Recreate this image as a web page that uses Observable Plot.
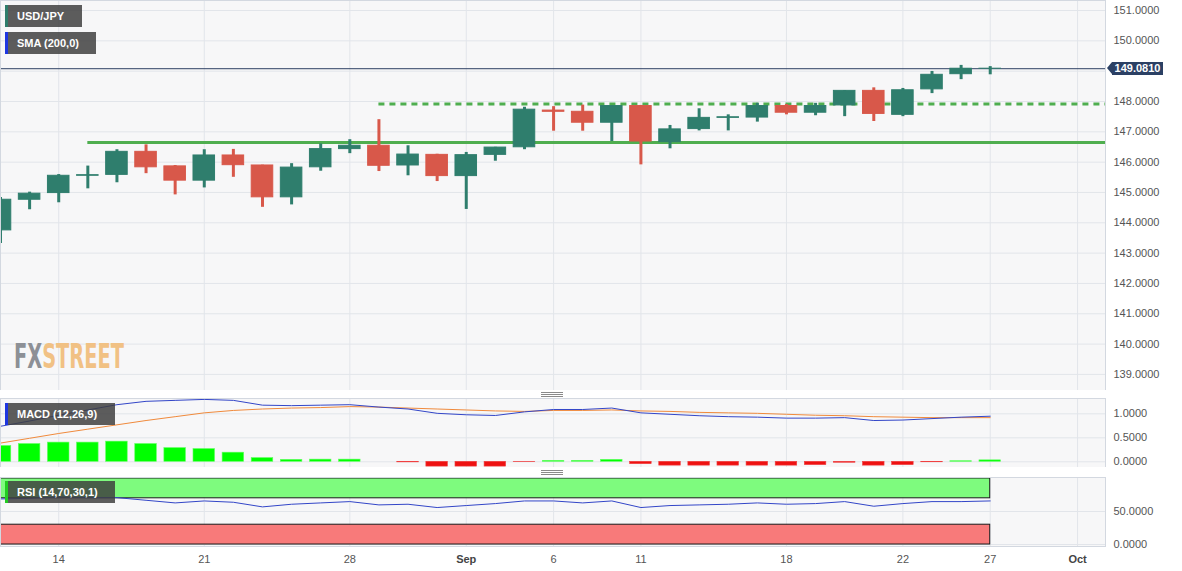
<!DOCTYPE html>
<html>
<head>
<meta charset="utf-8">
<script src="https://cdn.jsdelivr.net/npm/d3@7"></script>
<script src="https://cdn.jsdelivr.net/npm/@observablehq/plot@0.6"></script>
<style>
  html, body { margin: 0; padding: 0; background: #fff; }
  #wrap { position: relative; width: 1182px; height: 571px; overflow: hidden; background: #fff;
          font-family: "Liberation Sans", Arial, sans-serif; }
  .panel { position: absolute; left: 0; }
  .tag { position: absolute; left: 5px; height: 22px; line-height: 22px; padding-left: 12px;
         background: rgba(62,62,62,0.84); color: #fff; font-size: 11px; font-weight: bold;
         box-sizing: border-box; white-space: nowrap; }
  .tag::before { content: ""; position: absolute; left: 0; top: 0; bottom: 0; width: 3px; background: var(--stripe); }
  .handle { position: absolute; left: 541px; width: 22px; height: 5px; border-top: 1px solid #8a8a8a;
            border-bottom: 1px solid #8a8a8a; box-sizing: border-box; }
  .handle::after { content: ""; position: absolute; left: 0; right: 0; top: 1px; height: 1px; background: #8a8a8a; }
  .pricetag { position: absolute; left: 1112px; width: 51px; height: 13px; line-height: 13px;
              background: #2b4064; color: #fff; font-size: 11px; font-weight: bold; text-align: center; }
  .pricetag::before { content: ""; position: absolute; left: -5px; top: 0; border-right: 5px solid #2b4064;
                      border-top: 6.5px solid transparent; border-bottom: 6.5px solid transparent; }
</style>
</head>
<body>
<div id="wrap"></div>
<script>
// ---------------- DATA ----------------
const dates = ["2023-08-10","2023-08-11","2023-08-14","2023-08-15","2023-08-16","2023-08-17","2023-08-18",
  "2023-08-21","2023-08-22","2023-08-23","2023-08-24","2023-08-25","2023-08-28","2023-08-29","2023-08-30",
  "2023-08-31","2023-09-01","2023-09-04","2023-09-05","2023-09-06","2023-09-07","2023-09-08","2023-09-11",
  "2023-09-12","2023-09-13","2023-09-14","2023-09-15","2023-09-18","2023-09-19","2023-09-20","2023-09-21",
  "2023-09-22","2023-09-25","2023-09-26","2023-09-27"];
const opens  = [143.75,144.76,144.98,145.55,145.58,146.34,145.86,145.39,146.22,145.89,144.84,145.83,146.43,146.54,145.89,
                146.24,145.54,146.24,146.49,147.70,147.66,147.30,147.85,146.66,147.09,147.46,147.47,147.85,147.63,147.87,
                148.35,147.56,148.40,148.90,149.08];
const highs  = [144.83,145.01,145.59,145.87,146.41,146.57,145.89,146.41,146.42,145.90,145.95,146.60,146.74,147.40,146.54,
                146.26,146.32,146.49,147.81,147.83,147.88,147.86,147.87,147.21,147.76,147.56,147.94,147.90,147.94,148.36,
                148.45,148.43,148.99,149.19,149.15];
const lows   = [143.32,144.43,144.66,145.12,145.32,145.62,144.92,145.15,145.50,144.51,144.59,145.70,146.28,145.69,145.55,
                145.36,144.44,146.03,146.41,147.02,147.02,146.68,145.91,146.44,147.03,147.03,147.32,147.56,147.53,147.50,
                147.34,147.50,148.26,148.72,148.88];
const closes = [144.76,144.96,145.55,145.57,146.34,145.83,145.39,146.22,145.90,144.84,145.82,146.43,146.54,145.88,146.25,
                145.54,146.23,146.48,147.73,147.66,147.30,147.85,146.68,147.08,147.46,147.48,147.85,147.63,147.85,148.35,
                147.59,148.37,148.88,149.08,149.081];
const lastPrice = 149.081;

// horizontal support/resistance levels and the trading-day index where each starts
const levelValues = [146.65, 147.92];
const levelStart  = [3, 13];

// MACD (12,26,9)
const macdLine   = [0.74,0.85,0.97,1.08,1.19,1.26,1.28,1.30,1.28,1.18,1.17,1.18,1.19,1.14,1.10,1.01,0.98,0.965,1.04,1.09,
                    1.09,1.12,1.02,0.99,0.96,0.94,0.93,0.91,0.91,0.92,0.86,0.87,0.90,0.93,0.95];
const signalLine = [0.39,0.49,0.59,0.68,0.77,0.86,0.94,1.02,1.07,1.10,1.12,1.13,1.15,1.14,1.12,1.10,1.08,1.06,1.05,1.07,
                    1.07,1.08,1.06,1.05,1.03,1.02,1.01,0.99,0.97,0.96,0.94,0.93,0.92,0.92,0.92];
const histogram  = [0.33,0.37,0.40,0.40,0.42,0.37,0.285,0.265,0.19,0.077,0.04,0.045,0.045,0.0,-0.012,-0.10,-0.10,-0.10,
                    -0.008,0.02,0.02,0.04,-0.05,-0.08,-0.08,-0.08,-0.08,-0.08,-0.07,-0.02,-0.08,-0.07,-0.01,0.012,0.03];

// RSI (14,70,30,1)
const rsiValues = [69,70,72,71,71,67,63,66,64,57,61,63,65,60,61,56,59,62,66,66,63,66,56,59,60,61,63,61,62,65,58,62,65,65,66];
const rsiBands  = [{lo: 70, hi: 100, fill: "#7efb7e"}, {lo: 0, hi: 30, fill: "#f87a7a"}];

// ticks
const priceTicks = [139,140,141,142,143,144,145,146,147,148,150,151];
const macdTicks  = [0, 0.5, 1];
const rsiTicks   = [0, 50];
const xTickIdx    = [2, 7, 12, 16, 19, 22, 27, 31, 34, 37];
const xTickLabels = ["14","21","28","Sep","6","11","18","22","27","Oct"];
const monthLabels = ["Sep","Oct"];

// ---------------- CHART ----------------
const W = 1182, MR = 77;
const X_DOMAIN = [0, 37.96];
const BG = "#f7f7f8", GRID = "#e2e5ea", BORDER = "#d3d8e0", AXIS = "#555";
const FONT = '"Liberation Sans", Arial, sans-serif';
const HALF = 0.37;
const UP = "#2f7e6d", DOWN = "#d8584a";

const candles = dates.map((d, i) => ({i, date: d, open: opens[i], high: highs[i], low: lows[i], close: closes[i]}));
const candleColor = d => d.close >= d.open ? UP : DOWN;
const levels = levelValues.map((v, k) => ({value: v, from: levelStart[k]}));
const macdRows = dates.map((d, i) => ({i, macd: macdLine[i], signal: signalLine[i], hist: histogram[i]}));
const rsiRows = dates.map((d, i) => ({i, rsi: rsiValues[i]}));
const lastIdx = dates.length - 1;
const regIdx = xTickIdx.filter((_, k) => !monthLabels.includes(xTickLabels[k]));
const monIdx = xTickIdx.filter((_, k) => monthLabels.includes(xTickLabels[k]));
const labelOf = i => xTickLabels[xTickIdx.indexOf(i)];

const common = {
  width: W, marginLeft: 0, marginRight: MR, marginTop: 0,
  style: {fontFamily: FONT, fontSize: "11px", color: AXIS, background: "transparent"},
  x: {domain: X_DOMAIN, axis: null},
  color: {type: "identity"}
};
const rightAxis = (ticks) => Plot.axisY({ticks, anchor: "right", tickSize: 0, tickPadding: 8,
  tickFormat: d => d.toFixed(4), fill: AXIS, label: null});

const mainPlot = Plot.plot({
  ...common, height: 390, marginBottom: 0,
  y: {domain: [138.47, 151.33], axis: null},
  marks: [
    Plot.frame({fill: BG, stroke: null}),
    Plot.gridX({ticks: xTickIdx, stroke: GRID, strokeOpacity: 1}),
    Plot.gridY({ticks: priceTicks.concat([149]), stroke: GRID, strokeOpacity: 1}),
    Plot.ruleY(levels.slice(0, 1), {y: "value", x1: "from", x2: X_DOMAIN[1], stroke: "#4fae4f", strokeWidth: 3}),
    Plot.ruleY(levels.slice(1), {y: "value", x1: "from", x2: X_DOMAIN[1], stroke: "#4fae4f", strokeWidth: 3, strokeDasharray: "6,5"}),
    Plot.ruleY([lastPrice], {stroke: "#2d3f63", strokeWidth: 1}),
    Plot.ruleX(candles, {x: "i", y1: "low", y2: "high", stroke: candleColor, strokeWidth: 3}),
    Plot.rect(candles, {x1: d => d.i - HALF, x2: d => d.i + HALF, y1: "open", y2: "close",
      fill: candleColor, stroke: candleColor, strokeWidth: 1}),
    rightAxis(priceTicks),
    Plot.frame({stroke: BORDER})
  ]
});

const macdPlot = Plot.plot({
  ...common, height: 69, marginBottom: 0,
  y: {domain: [-0.119, 1.319], axis: null},
  marks: [
    Plot.frame({fill: BG, stroke: null}),
    Plot.gridX({ticks: xTickIdx, stroke: GRID, strokeOpacity: 1}),
    Plot.gridY({ticks: macdTicks, stroke: GRID, strokeOpacity: 1}),
    Plot.rect(macdRows, {x1: d => d.i - HALF, x2: d => d.i + HALF, y1: 0, y2: "hist",
      fill: d => d.hist >= 0 ? "#00ff00" : "#ee1111", stroke: d => d.hist >= 0 ? "#60ff60" : "#f04040", strokeWidth: 0.6}),
    Plot.line(macdRows, {x: "i", y: "signal", stroke: "#f08a3c", strokeWidth: 1}),
    Plot.line(macdRows, {x: "i", y: "macd", stroke: "#3346c8", strokeWidth: 1}),
    rightAxis(macdTicks),
    Plot.frame({stroke: BORDER})
  ]
});

const rsiPlot = Plot.plot({
  ...common, height: 95, marginBottom: 26,
  y: {domain: [-3, 101.5], axis: null},
  marks: [
    Plot.frame({fill: BG, stroke: null}),
    Plot.gridX({ticks: xTickIdx, stroke: GRID, strokeOpacity: 1}),
    Plot.gridY({ticks: rsiTicks, stroke: GRID, strokeOpacity: 1}),
    Plot.rect(rsiBands, {x1: 0, x2: lastIdx, y1: "lo", y2: "hi", fill: "fill", stroke: "#1a1a1a", strokeWidth: 1}),
    Plot.line(rsiRows, {x: "i", y: "rsi", stroke: "#3346c8", strokeWidth: 1}),
    rightAxis(rsiTicks),
    Plot.axisX({ticks: regIdx, tickFormat: labelOf, tickSize: 0, tickPadding: 9, fill: AXIS, label: null}),
    Plot.axisX({ticks: monIdx, tickFormat: labelOf, tickSize: 0, tickPadding: 9, fill: "#444", fontWeight: "bold", label: null}),
    Plot.frame({stroke: BORDER})
  ]
});

// ---------------- LAYOUT ----------------
const wrap = document.getElementById("wrap");
function place(node, top) {
  const d = document.createElement("div");
  d.className = "panel"; d.style.top = top + "px";
  d.appendChild(node); wrap.appendChild(d);
}
place(mainPlot, 0);
place(macdPlot, 398);
place(rsiPlot, 477);

// watermark: one text, horizontally condensed
const wm = document.createElement("div");
wm.className = "panel"; wm.style.top = "336px"; wm.style.left = "14px";
wm.innerHTML = '<svg width="140" height="40" style="display:block">' +
  '<text x="0" y="32" transform="scale(0.57,1)" font-family="DejaVu Sans, sans-serif" font-weight="bold" font-size="34">' +
  '<tspan fill="#8d9096">FX</tspan><tspan fill="#f1c184">STREET</tspan></text></svg>';
wrap.appendChild(wm);

// indicator tags
function tag(text, top, width, stripe) {
  const t = document.createElement("div");
  t.className = "tag"; t.textContent = text;
  t.style.top = top + "px"; t.style.width = width + "px"; t.style.setProperty("--stripe", stripe);
  wrap.appendChild(t);
}
tag("USD/JPY", 5, 77, "#2e7d6b");
tag("SMA (200,0)", 32, 91, "#1e36e0");
tag("MACD (12,26,9)", 403, 110, "#1e36e0");
tag("RSI (14,70,30,1)", 481, 110, "#22cc22");

// panel resize handles
for (const top of [392, 470]) {
  const h = document.createElement("div");
  h.className = "handle"; h.style.top = top + "px";
  wrap.appendChild(h);
}

// last-price tag on the price axis
const py = mainPlot.scale("y").apply(lastPrice);
const pt = document.createElement("div");
pt.className = "pricetag"; pt.textContent = lastPrice.toFixed(4);
pt.style.top = (py - 6.5) + "px";
wrap.appendChild(pt);
</script>
</body>
</html>
